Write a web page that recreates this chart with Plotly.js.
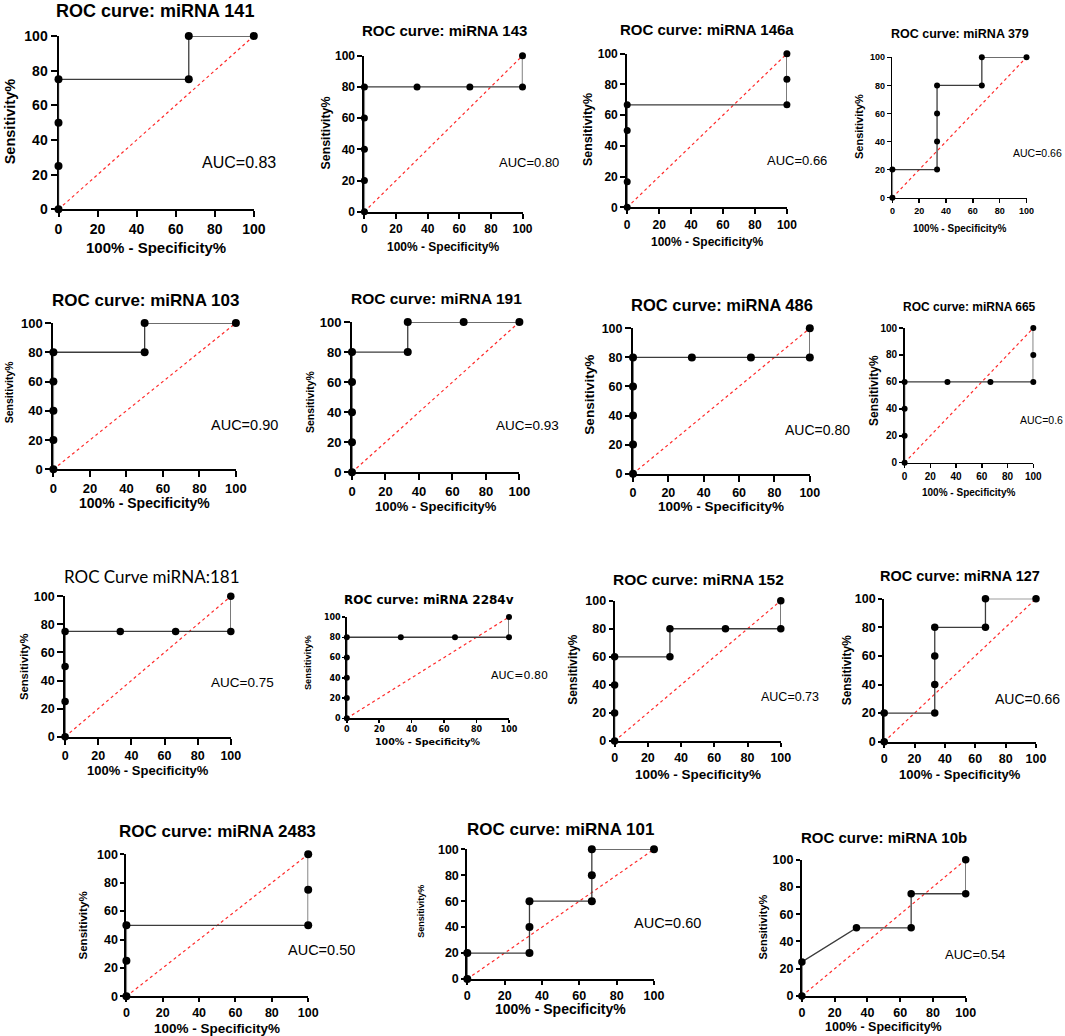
<!DOCTYPE html>
<html>
<head>
<meta charset="utf-8">
<script src="https://cdn.plot.ly/plotly-3.0.1.min.js"></script>
<style>
  body { margin: 0; background: #fff; }
  #chart { width: 1065px; height: 1036px; }
</style>
</head>
<body>
<div id="chart"></div>
<script>
// ---- data ----
const panelTitles = [
    'ROC curve: miRNA 141', 'ROC curve: miRNA 143', 'ROC curve: miRNA 146a', 'ROC curve: miRNA 379',
    'ROC curve: miRNA 103', 'ROC curve: miRNA 191', 'ROC curve: miRNA 486', 'ROC curve: miRNA 665',
    'ROC Curve miRNA:181', 'ROC curve: miRNA 2284v', 'ROC curve: miRNA 152', 'ROC curve: miRNA 127',
    'ROC curve: miRNA 2483', 'ROC curve: miRNA 101', 'ROC curve: miRNA 10b'
];
const aucTexts = [
    'AUC=0.83', 'AUC=0.80', 'AUC=0.66', 'AUC=0.66',
    'AUC=0.90', 'AUC=0.93', 'AUC=0.80', 'AUC=0.6',
    'AUC=0.75', 'AUC=0.80', 'AUC=0.73', 'AUC=0.66',
    'AUC=0.50', 'AUC=0.60', 'AUC=0.54'
];

// 100% - specificity (x) and sensitivity (y), in %
const fpr141 = [0, 0, 0, 0, 66.7, 66.7, 100];
const tpr141 = [0, 25, 50, 75, 75, 100, 100];
const fpr143 = [0, 0, 0, 0, 0, 33.3, 66.7, 100, 100];
const tpr143 = [0, 20, 40, 60, 80, 80, 80, 80, 100];
const fpr146a = [0, 0, 0, 0, 100, 100, 100];
const tpr146a = [0, 16.7, 50, 66.7, 66.7, 83.3, 100];
const fpr379 = [0, 0, 33.3, 33.3, 33.3, 33.3, 66.7, 66.7, 100];
const tpr379 = [0, 20, 20, 40, 60, 80, 80, 100, 100];
const fpr103 = [0, 0, 0, 0, 0, 50, 50, 100];
const tpr103 = [0, 20, 40, 60, 80, 80, 100, 100];
const fpr191 = [0, 0, 0, 0, 0, 33.3, 33.3, 66.7, 100];
const tpr191 = [0, 20, 40, 60, 80, 80, 100, 100, 100];
const fpr486 = [0, 0, 0, 0, 0, 33.3, 66.7, 100, 100];
const tpr486 = [0, 20, 40, 60, 80, 80, 80, 80, 100];
const fpr665 = [0, 0, 0, 0, 33.3, 66.7, 100, 100, 100];
const tpr665 = [0, 20, 40, 60, 60, 60, 60, 80, 100];
const fpr181 = [0, 0, 0, 0, 33.3, 66.7, 100, 100];
const tpr181 = [0, 25, 50, 75, 75, 75, 75, 100];
const fpr2284v = [0, 0, 0, 0, 0, 33.3, 66.7, 100, 100];
const tpr2284v = [0, 20, 40, 60, 80, 80, 80, 80, 100];
const fpr152 = [0, 0, 0, 0, 33.3, 33.3, 66.7, 100, 100];
const tpr152 = [0, 20, 40, 60, 60, 80, 80, 80, 100];
const fpr127 = [0, 0, 33.3, 33.3, 33.3, 33.3, 66.7, 66.7, 100];
const tpr127 = [0, 20, 20, 40, 60, 80, 80, 100, 100];
const fpr2483 = [0, 0, 0, 100, 100, 100];
const tpr2483 = [0, 25, 50, 50, 75, 100];
const fpr101 = [0, 0, 33.3, 33.3, 33.3, 66.7, 66.7, 66.7, 100];
const tpr101 = [0, 20, 20, 40, 60, 60, 80, 100, 100];
const fpr10b = [0, 0, 33.3, 66.7, 66.7, 100, 100];
const tpr10b = [0, 25, 50, 50, 75, 75, 100];

const fprSets = [fpr141, fpr143, fpr146a, fpr379, fpr103, fpr191, fpr486, fpr665,
                 fpr181, fpr2284v, fpr152, fpr127, fpr2483, fpr101, fpr10b];
const tprSets = [tpr141, tpr143, tpr146a, tpr379, tpr103, tpr191, tpr486, tpr665,
                 tpr181, tpr2284v, tpr152, tpr127, tpr2483, tpr101, tpr10b];

const chanceLine = [0, 100];
const tickValues = [0, 20, 40, 60, 80, 100];

// ---- placement (pixels in the 1065x1036 page) ----
const W = 1065, H = 1036;
// [x at 0, x at 100, y at 100, y at 0]
const plotBoxes = [
    [58.5, 253.8, 36, 209.3], [364.4, 522.5, 55.7, 211.7], [627.2, 786.9, 53.7, 207.3], [892.4, 1026.5, 57.3, 197.7],
    [53.4, 235.9, 323, 469.3], [352, 519.4, 322, 472.3], [633, 809.8, 328.3, 473.7], [904.6, 1033.3, 328, 462.7],
    [65.1, 230.8, 596.3, 736.7], [346.8, 509, 617, 718.3], [614.6, 780.8, 600.7, 741], [884.2, 1036, 598.7, 741.7],
    [126.4, 308.2, 854.3, 996.3], [467.3, 654, 849.3, 979], [801.9, 965.7, 859.7, 996]
];
// [titleX, titleY, titleSize, tickSize, xTitleY, xTitleSize, yTitleX, yTitleY, yTitleSize, aucX, aucY, aucSize, markerSize]
const textSpots = [
    [155, 11, 18, 14, 247, 15, 10.3, 121, 14.5, 239, 162, 16, 8],
    [444, 31, 15, 12, 247, 12, 325.5, 133, 12.4, 529, 163, 13, 7],
    [707, 29, 15, 12, 242, 12, 588, 130, 12.4, 796.6, 161, 13, 7],
    [960, 34, 12.5, 9, 229, 10, 859, 127, 11, 1037, 153, 10.5, 6],
    [145, 300, 17, 13, 502.7, 14, 9.3, 392, 10.5, 244, 425, 14.5, 8],
    [436.4, 298.3, 15.5, 13, 506.7, 13, 310, 402, 10.5, 527, 426, 13.5, 8],
    [721.8, 305, 16.5, 12.5, 506.7, 13.5, 589.7, 395, 13.6, 817.4, 430, 14, 8],
    [969.5, 306.7, 12, 10, 492.3, 10, 874, 391, 12, 1041, 420, 10.5, 6],
    [152, 576, 17, 12.5, 770, 13, 24.1, 667, 11.3, 242.3, 682.3, 13.5, 7.5],
    [428.8, 600.3, 12, 8, 741.5, 9.5, 307.6, 662.5, 9.3, 519.5, 675, 11, 6],
    [698.6, 579, 15.5, 12.5, 774, 13.5, 572.7, 670, 11.9, 789.5, 696.7, 12.5, 7.5],
    [960.3, 576, 14.5, 12.5, 774, 13, 847.3, 670, 11.9, 1027.6, 699, 14, 7.5],
    [217.3, 831.7, 17, 12.5, 1028.3, 13.5, 81.6, 926, 11.6, 321.7, 950, 14.5, 8],
    [560.8, 829, 17, 12.5, 1008.5, 14, 420.7, 911, 9, 667, 922.7, 14.5, 8],
    [884, 837.7, 15, 12.5, 1027.3, 12.5, 762, 927.5, 11, 975, 954.3, 13, 7.5]
];
const tickLens = [6, 5, 5, 4, 6, 6, 6, 4, 6, 3, 4, 4, 4, 4, 4];

const boldFamily = 'Liberation Sans, Arial, sans-serif';
function familyFor(i, part) {
    if (i === 8 && part === 'title') return 'Lato, Calibri, sans-serif';
    if (i === 9 && part !== 'ytitle') return 'DejaVu Sans, Verdana, sans-serif';
    return boldFamily;
}

const px = x => x / W;
const py = y => 1 - y / H;

const traces = [];
const layout = {
    width: W, height: H,
    margin: { l: 0, r: 0, t: 0, b: 0 },
    paper_bgcolor: 'white', plot_bgcolor: 'white',
    showlegend: false,
    annotations: []
};

panelTitles.forEach((title, i) => {
    const n = i === 0 ? '' : String(i + 1);
    const [x0, x100, yTop, yBot] = plotBoxes[i];
    const s = textSpots[i];
    const small = s[3] <= 10;
    const axisW = small ? 1.5 : 2;

    traces.push({
        x: chanceLine, y: chanceLine, xaxis: 'x' + n, yaxis: 'y' + n,
        type: 'scatter', mode: 'lines', hoverinfo: 'skip',
        line: { color: '#ff2a2a', width: 1.2, dash: 'dot' }
    });
    traces.push({
        x: fprSets[i], y: tprSets[i], xaxis: 'x' + n, yaxis: 'y' + n,
        type: 'scatter', mode: 'lines+markers', cliponaxis: false,
        line: { color: '#3c3c3c', width: 1.3 },
        marker: { color: 'black', size: s[12] }
    });

    const tickFont = {
        family: familyFor(i, 'tick'), size: s[3], color: 'black', weight: 'bold'
    };
    const common = {
        range: [0, 100], tickvals: tickValues, showgrid: false, zeroline: false,
        showline: true, linecolor: 'black', linewidth: axisW,
        ticks: 'outside', ticklen: tickLens[i], tickwidth: axisW, tickcolor: 'black',
        tickfont: tickFont, fixedrange: true, layer: 'below traces'
    };
    layout['xaxis' + n] = Object.assign({}, common, {
        domain: [px(x0), px(x100)], anchor: 'y' + n
    });
    layout['yaxis' + n] = Object.assign({}, common, {
        domain: [py(yBot), py(yTop)], anchor: 'x' + n
    });

    // panel title
    layout.annotations.push({
        text: title, xref: 'paper', yref: 'paper', x: px(s[0]), y: py(s[1]),
        xanchor: 'center', yanchor: 'middle', showarrow: false,
        font: {
            family: familyFor(i, 'title'), size: s[2], color: 'black',
            weight: i === 8 ? 'normal' : 'bold'
        }
    });
    // x axis title
    layout.annotations.push({
        text: '100% - Specificity%', xref: 'paper', yref: 'paper',
        x: px((x0 + x100) / 2), y: py(s[4]),
        xanchor: 'center', yanchor: 'middle', showarrow: false,
        font: { family: familyFor(i, 'xtitle'), size: s[5], color: 'black', weight: 'bold' }
    });
    // y axis title
    layout.annotations.push({
        text: 'Sensitivity%', xref: 'paper', yref: 'paper',
        x: px(s[6]), y: py(s[7]), textangle: -90,
        xanchor: 'center', yanchor: 'middle', showarrow: false,
        font: { family: familyFor(i, 'ytitle'), size: s[8], color: 'black', weight: 'bold' }
    });
    // AUC label
    layout.annotations.push({
        text: aucTexts[i], xref: 'paper', yref: 'paper',
        x: px(s[9]), y: py(s[10]),
        xanchor: 'center', yanchor: 'middle', showarrow: false,
        font: { family: i === 9 ? familyFor(i, 'auc') : 'Liberation Sans, Arial, sans-serif',
                size: s[11], color: 'black' }
    });
});

Plotly.newPlot('chart', traces, layout, { displayModeBar: false, staticPlot: true });
</script>
</body>
</html>
